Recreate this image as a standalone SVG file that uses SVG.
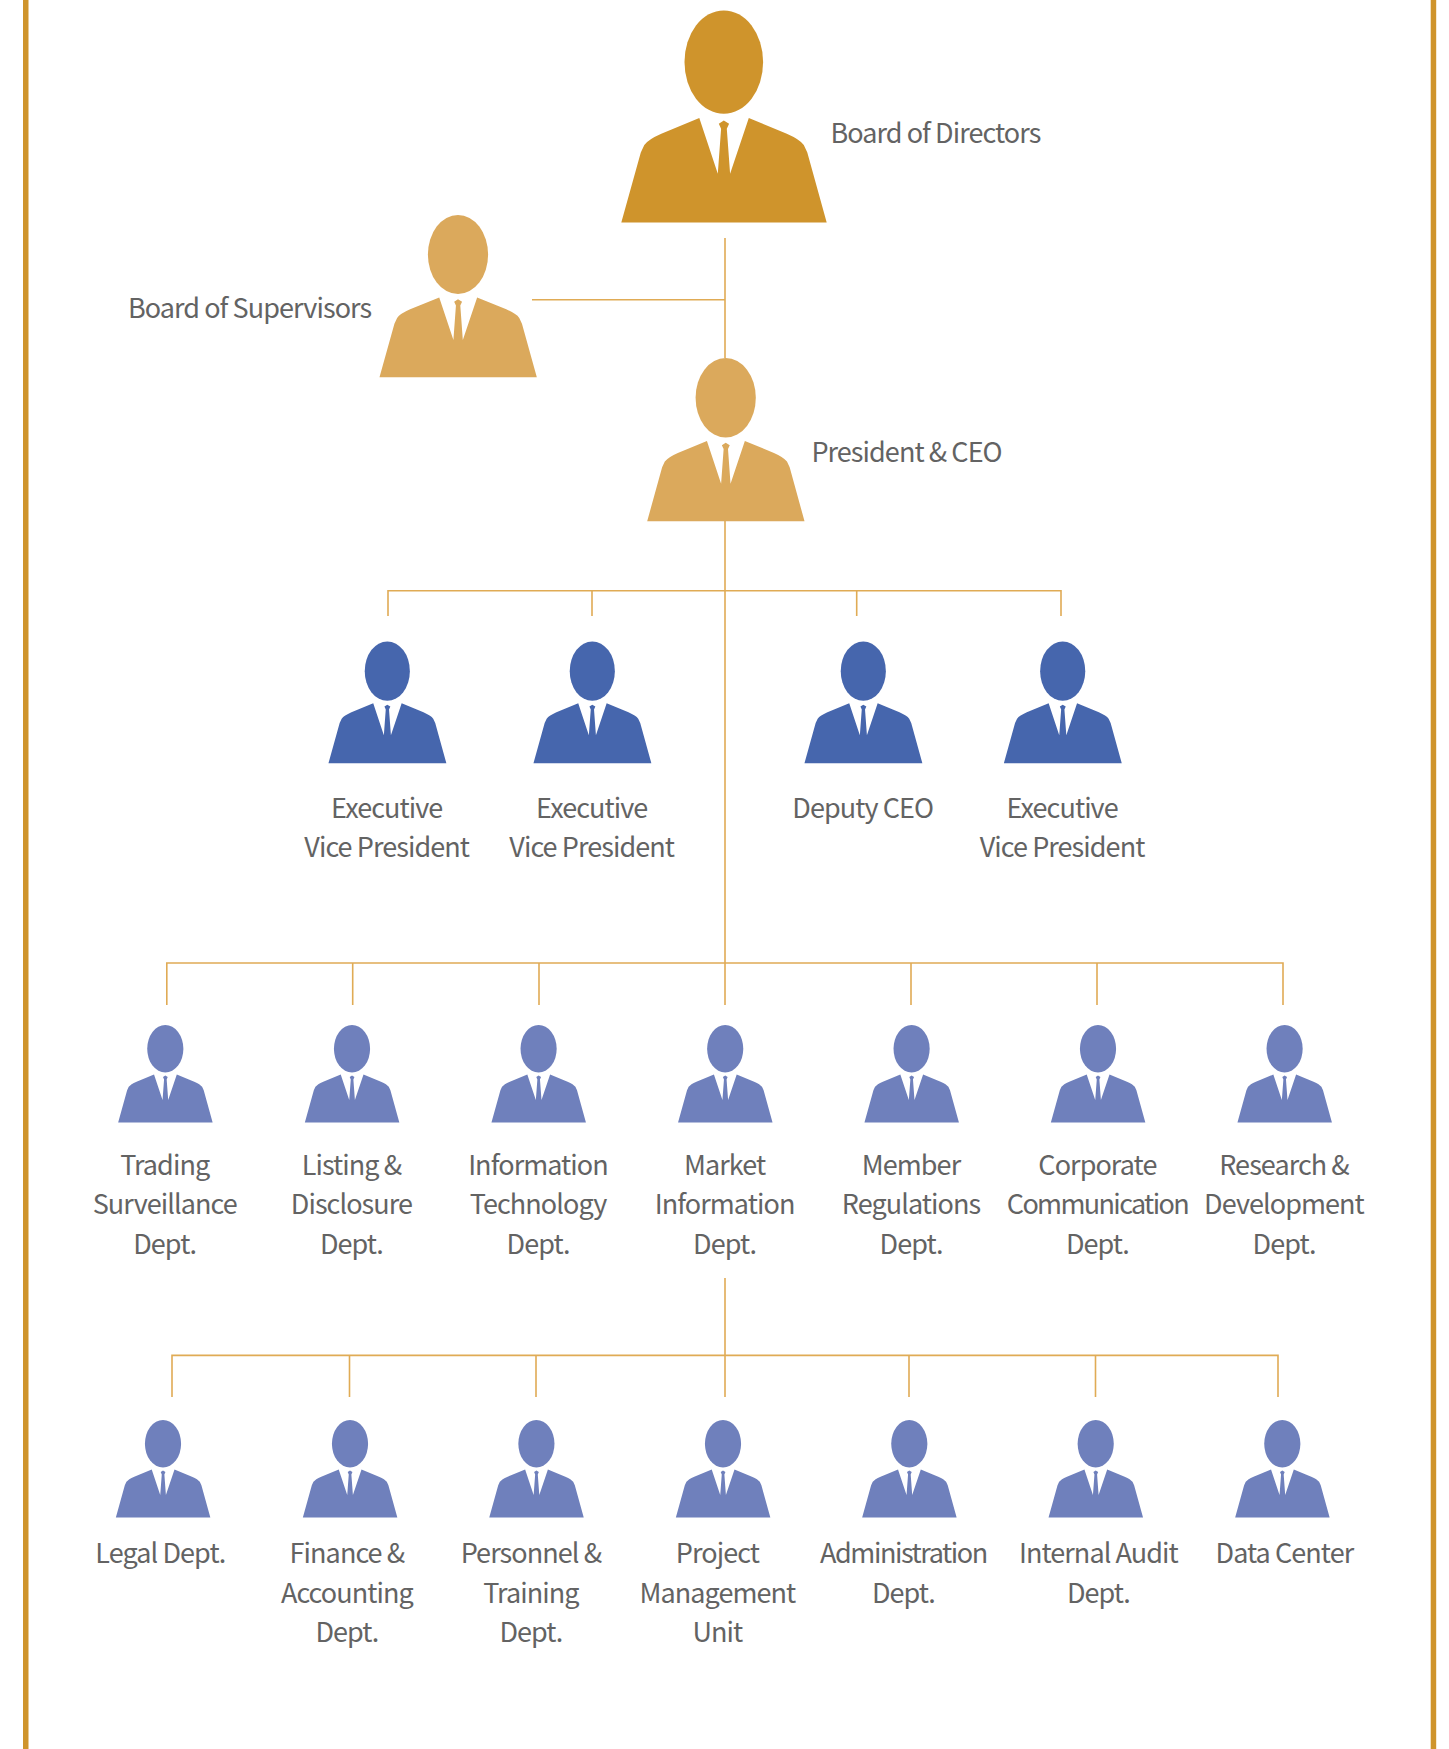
<svg xmlns="http://www.w3.org/2000/svg" width="1449" height="1749" viewBox="0 0 1449 1749">
<style>
text{font-family:"Noto Sans CJK KR","Noto Sans CJK SC","Noto Sans",sans-serif;font-size:27px;fill:#636363;letter-spacing:-.93px;transform:translateX(-.6px)}
.m{text-anchor:middle}
.n{letter-spacing:-1.65px}
.o{letter-spacing:-1.42px}
.c path{stroke:#e0ab55;stroke-width:1.6;fill:none}
.a{fill:#cf942c}.b{fill:#dba95c}.e{fill:#4666ad}.d{fill:#6f80bc}
</style>
<defs>
<g id="person">
<ellipse cx="0" cy="51.7" rx="39.3" ry="51.7"/>
<path d="M-24.5 107.7L-6 163.3L-2.7 118.3L-5 113.3L0 110L5.3 113.3L3 118.3L6.3 163.3L25 107.7L63 123.3Q76 129 80 134.5L83.5 142L102.9 212H-102.5L-83 142L-79.5 134.5Q-75.5 129 -62.5 123.3Z"/>
</g>
</defs>
<rect width="1449" height="1749" fill="#fff"/>
<rect class="a" x="23" y="0" width="5.5" height="1749"/>
<rect class="a" x="1430.7" y="0" width="5.5" height="1749"/>
<g id="connectors" class="c">
<path d="M725 238V358M532 299.7H725M725 521V1005M388 616V590.7H1061V616M592 590.7V616M856.7 590.7V616"/>
<path d="M166.8 1005V963H1283V1005M352.7 963V1005M539 963V1005M911 963V1005M1097 963V1005"/>
<path d="M725 1278V1397M172 1397V1355.4H1278V1397M349.5 1355.4V1397M536 1355.4V1397M909 1355.4V1397M1095.5 1355.4V1397"/>
</g>
<g id="board"><use href="#person" class="a" transform="translate(723.8 10.4)"/><text x="831" y="143">Board of Directors</text></g>
<g id="supervisors"><use href="#person" class="b" transform="translate(458 215) scale(.766 .765)"/><text x="128.5" y="318">Board of Supervisors</text></g>
<g id="ceo"><use href="#person" class="b" transform="translate(725.7 358) scale(.766 .77)"/><text x="812" y="462">President &amp; CEO</text></g>
<g id="evp1"><use href="#person" class="e" transform="translate(387.3 641.4) scale(.574 .575)"/><text class="m" x="387.3" y="817.5">Executive</text><text class="m" x="387.3" y="856.5">Vice President</text></g>
<g id="evp2"><use href="#person" class="e" transform="translate(592.3 641.4) scale(.574 .575)"/><text class="m" x="592.3" y="817.5">Executive</text><text class="m" x="592.3" y="856.5">Vice President</text></g>
<g id="deputy"><use href="#person" class="e" transform="translate(863.3 641.4) scale(.574 .575)"/><text class="m" x="863.3" y="817.5">Deputy CEO</text></g>
<g id="evp3"><use href="#person" class="e" transform="translate(1062.7 641.4) scale(.574 .575)"/><text class="m" x="1062.7" y="817.5">Executive</text><text class="m" x="1062.7" y="856.5">Vice President</text></g>
<g id="d1"><use href="#person" class="d" transform="translate(165.3 1025) scale(.46)"/><text class="m" x="165.3" y="1174.5">Trading</text><text class="m" x="165.3" y="1213.5">Surveillance</text><text class="m" x="165.3" y="1253.5">Dept.</text></g>
<g id="d2"><use href="#person" class="d" transform="translate(352 1025) scale(.46)"/><text class="m" x="352" y="1174.5">Listing &amp;</text><text class="m" x="352" y="1213.5">Disclosure</text><text class="m" x="352" y="1253.5">Dept.</text></g>
<g id="d3"><use href="#person" class="d" transform="translate(538.6 1025) scale(.46)"/><text class="m" x="538.6" y="1174.5">Information</text><text class="m" x="538.6" y="1213.5">Technology</text><text class="m" x="538.6" y="1253.5">Dept.</text></g>
<g id="d4"><use href="#person" class="d" transform="translate(725.2 1025) scale(.46)"/><text class="m" x="725.2" y="1174.5">Market</text><text class="m" x="725.2" y="1213.5">Information</text><text class="m" x="725.2" y="1253.5">Dept.</text></g>
<g id="d5"><use href="#person" class="d" transform="translate(911.6 1025) scale(.46)"/><text class="m" x="911.6" y="1174.5">Member</text><text class="m" x="911.6" y="1213.5">Regulations</text><text class="m" x="911.6" y="1253.5">Dept.</text></g>
<g id="d6"><use href="#person" class="d" transform="translate(1098 1025) scale(.46)"/><text class="m" x="1098" y="1174.5">Corporate</text><text class="m n" x="1098" y="1213.5">Communication</text><text class="m" x="1098" y="1253.5">Dept.</text></g>
<g id="d7"><use href="#person" class="d" transform="translate(1284.6 1025) scale(.46)"/><text class="m" x="1284.6" y="1174.5">Research &amp;</text><text class="m" x="1284.6" y="1213.5">Development</text><text class="m" x="1284.6" y="1253.5">Dept.</text></g>
<g id="e1"><use href="#person" class="d" transform="translate(163 1420) scale(.46)"/><text class="m" x="161" y="1562.5">Legal Dept.</text></g>
<g id="e2"><use href="#person" class="d" transform="translate(350 1420) scale(.46)"/><text class="m" x="347.5" y="1562.5">Finance &amp;</text><text class="m" x="347.5" y="1602.5">Accounting</text><text class="m" x="347.5" y="1642">Dept.</text></g>
<g id="e3"><use href="#person" class="d" transform="translate(536.4 1420) scale(.46)"/><text class="m" x="531.5" y="1562.5">Personnel &amp;</text><text class="m" x="531.5" y="1602.5">Training</text><text class="m" x="531.5" y="1642">Dept.</text></g>
<g id="e4"><use href="#person" class="d" transform="translate(723 1420) scale(.46)"/><text class="m" x="718" y="1562.5">Project</text><text class="m" x="718" y="1602.5">Management</text><text class="m" x="718" y="1642">Unit</text></g>
<g id="e5"><use href="#person" class="d" transform="translate(909.3 1420) scale(.46)"/><text class="m o" x="904" y="1562.5">Administration</text><text class="m" x="904" y="1602.5">Dept.</text></g>
<g id="e6"><use href="#person" class="d" transform="translate(1095.7 1420) scale(.46)"/><text class="m" x="1099" y="1562.5">Internal Audit</text><text class="m" x="1099" y="1602.5">Dept.</text></g>
<g id="e7"><use href="#person" class="d" transform="translate(1282.3 1420) scale(.46)"/><text class="m" x="1285" y="1562.5">Data Center</text></g>
</svg>
